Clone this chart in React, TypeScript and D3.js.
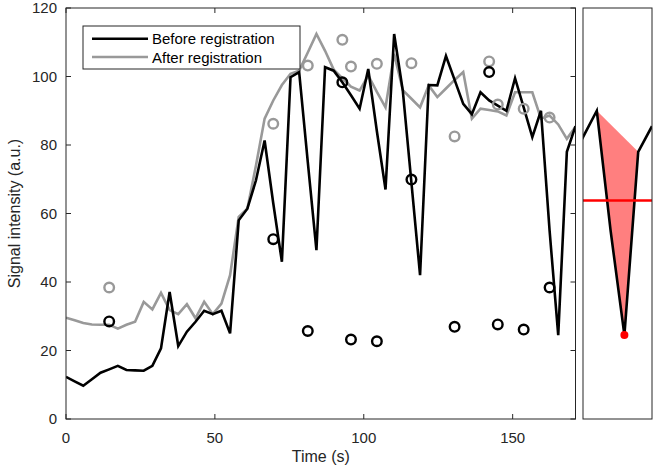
import React from "react";
import * as d3 from "d3";

const times = [0, 2.9, 5.8, 8.7, 11.6, 14.5, 17.4, 20.3, 23.2, 26.1, 29, 31.9, 34.8, 37.7, 40.6, 43.5, 46.4, 49.3, 52.2, 55.1, 58, 60.9, 63.8, 66.7, 69.6, 72.5, 75.4, 78.3, 81.2, 84.1, 87, 89.9, 92.8, 95.7, 98.6, 101.5, 104.4, 107.3, 110.2, 113.1, 116, 118.9, 121.8, 124.7, 127.6, 130.5, 133.4, 136.3, 139.2, 142.1, 145, 147.9, 150.8, 153.7, 156.6, 159.5, 162.4, 165.3, 168.2, 171.1];

const beforeReg = [12.3, 11, 9.7, 11.6, 13.5, 14.5, 15.5, 14.3, 14.2, 14.1, 15.5, 20.6, 37.1, 21.3, 25.5, 28.4, 31.6, 30.6, 31.6, 25, 58, 61.4, 69.7, 81.3, 63, 45.9, 99.8, 101.3, 75, 49.3, 102.7, 101.7, 98.3, 94.5, 90.6, 102.2, 84, 67, 112.4, 95.9, 69, 42, 97.5, 97.4, 106, 99, 92, 89, 95.4, 93, 91.5, 90, 99.5, 91, 82.3, 90, 55, 24.5, 78, 85.5];

const afterReg = [29.6, 28.8, 28, 27.6, 27.5, 27.5, 26.4, 27.5, 28.4, 34.2, 32, 36.8, 31.8, 30.6, 33.5, 29.4, 34.2, 30.6, 33.7, 42, 59, 61.4, 74, 87.7, 93, 97.5, 100.8, 101.7, 107, 112.4, 107.5, 102, 99.5, 97, 95.9, 100.3, 95.5, 91, 106.6, 96, 93.5, 91, 97.4, 94, 96.5, 99, 101.3, 87.7, 90.6, 90.2, 89.8, 88.6, 95.4, 95.4, 95.4, 87.7, 88.6, 86, 81.8, 85.3];

const circleTimes = [14.5, 69.6, 81.2, 92.8, 95.7, 104.4, 116, 130.5, 142.1, 145, 153.7, 162.4];
const circleBefore = [28.5, 52.5, 25.7, 98.3, 23.2, 22.7, 69.9, 26.9, 101.3, 27.6, 26.1, 38.4];
const circleAfter = [38.4, 86.2, 103.2, 110.7, 102.9, 103.7, 103.9, 82.5, 104.4, 91.8, 90.6, 88];

const xTicks = [0, 50, 100, 150];
const yTicks = [0, 20, 40, 60, 80, 100, 120];
const legendLabels = ["Before registration", "After registration"];
const xLabel = "Time (s)";
const yLabel = "Signal intensity (a.u.)";

const insetDomain = [156.6, 171.1];
const insetFillIdx = [55, 56, 57, 58];
const minIdx = 57;
const threshold = 63.8;

const AX = "#262626";
const GRAY = "#999999";
const FONT = "'Liberation Sans', Arial, Helvetica, sans-serif";

export default function App() {
  const W = 655, H = 470;
  const left = 66, right = 575.5, top = 8, bottom = 419;
  const iLeft = 583, iRight = 652;
  const x = d3.scaleLinear().domain([0, 171.1]).range([left, right]);
  const y = d3.scaleLinear().domain([0, 120]).range([bottom, top]);
  const xi = d3.scaleLinear().domain(insetDomain).range([iLeft, iRight]);

  const pts = (vals: number[]) => times.map((t, i) => [t, vals[i]] as [number, number]);
  const lineMain = d3.line<[number, number]>().x(d => x(d[0])).y(d => y(d[1]));
  const lineInset = d3.line<[number, number]>().x(d => xi(d[0])).y(d => y(d[1]));

  const fillPts = insetFillIdx.map(i => [times[i], beforeReg[i]] as [number, number]);
  const fillPath = lineInset(fillPts) + "Z";

  const tickLen = 5;

  return (
    <svg width={W} height={H} style={{ position: "absolute", left: 0, top: 0, background: "#fff" }} fontFamily={FONT}>
      <defs>
        <clipPath id="mainClip"><rect x={left} y={top} width={right - left} height={bottom - top} /></clipPath>
        <clipPath id="insetClip"><rect x={iLeft} y={top} width={iRight - iLeft} height={bottom - top} /></clipPath>
      </defs>
      <rect x={0} y={0} width={W} height={H} fill="#fff" />

      <g clipPath="url(#mainClip)">
        <path d={lineMain(pts(afterReg)) || ""} fill="none" stroke={GRAY} strokeWidth={2.6} strokeLinejoin="miter" />
        <path d={lineMain(pts(beforeReg)) || ""} fill="none" stroke="#000" strokeWidth={2.6} strokeLinejoin="miter" />
      </g>
      {circleTimes.map((t, i) => (
        <circle key={"ca" + i} cx={x(t)} cy={y(circleAfter[i])} r={4.8} fill="none" stroke={GRAY} strokeWidth={2.4} />
      ))}
      {circleTimes.map((t, i) => (
        <circle key={"cb" + i} cx={x(t)} cy={y(circleBefore[i])} r={4.8} fill="none" stroke="#000" strokeWidth={2.4} />
      ))}

      <rect x={left} y={top} width={right - left} height={bottom - top} fill="none" stroke={AX} strokeWidth={1} />
      {xTicks.map(t => (
        <g key={"xt" + t}>
          <line x1={x(t)} x2={x(t)} y1={bottom} y2={bottom - tickLen} stroke={AX} />
          <line x1={x(t)} x2={x(t)} y1={top} y2={top + tickLen} stroke={AX} />
          <text x={x(t)} y={443} textAnchor="middle" fontSize={15} fill={AX}>{t}</text>
        </g>
      ))}
      {yTicks.map(t => (
        <g key={"yt" + t}>
          <line x1={left} x2={left + tickLen} y1={y(t)} y2={y(t)} stroke={AX} />
          <line x1={right} x2={right - tickLen} y1={y(t)} y2={y(t)} stroke={AX} />
          <text x={57} y={y(t) + 5} textAnchor="end" fontSize={15} fill={AX}>{t}</text>
        </g>
      ))}
      <text x={(left + right) / 2} y={462} textAnchor="middle" fontSize={16} fill={AX}>{xLabel}</text>
      <text transform={`translate(20, ${(top + bottom) / 2}) rotate(-90)`} textAnchor="middle" fontSize={16} fill={AX}>{yLabel}</text>

      <rect x={83} y={26} width={217} height={43} fill="#fff" stroke={AX} strokeWidth={1} />
      <line x1={92} x2={148} y1={38.7} y2={38.7} stroke="#000" strokeWidth={2.6} />
      <line x1={92} x2={148} y1={57} y2={57} stroke={GRAY} strokeWidth={2.6} />
      <text x={152} y={44} fontSize={15} fill="#000">{legendLabels[0]}</text>
      <text x={152} y={62.5} fontSize={15} fill="#000">{legendLabels[1]}</text>

      <g clipPath="url(#insetClip)">
        <path d={fillPath} fill="#ff0000" fillOpacity={0.5} stroke="none" />
        <path d={lineInset(pts(beforeReg)) || ""} fill="none" stroke="#000" strokeWidth={2.6} />
        <line x1={iLeft} x2={iRight} y1={y(threshold)} y2={y(threshold)} stroke="#ff0000" strokeWidth={2.5} />
        <circle cx={xi(times[minIdx])} cy={y(beforeReg[minIdx])} r={4} fill="#ff0000" />
      </g>
      <rect x={iLeft} y={top} width={iRight - iLeft} height={bottom - top} fill="none" stroke={AX} strokeWidth={1} />
    </svg>
  );
}
